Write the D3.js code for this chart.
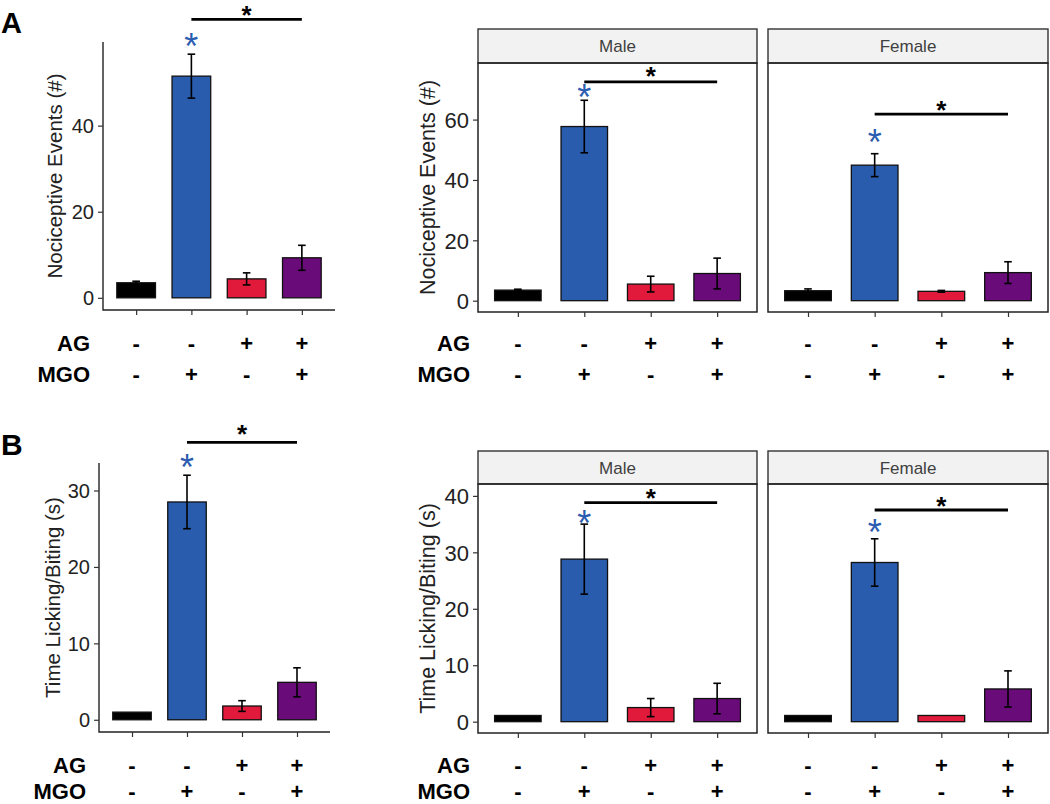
<!DOCTYPE html>
<html><head><meta charset="utf-8">
<script src="https://cdn.jsdelivr.net/npm/d3@7"></script>
<style>
body{margin:0;background:#fff}
svg{display:block}
text{font-family:"Liberation Sans",Arial,Helvetica,sans-serif}
</style>
</head><body>
<svg id="chart" width="1050" height="804"></svg>
<script>
// ---------- data ----------
const groups   = ["Control", "MGO", "AG", "AG+MGO"];
const agSigns  = ["-", "-", "+", "+"];
const mgoSigns = ["-", "+", "-", "+"];
const barColors = ["#000000", "#2A5CAD", "#E1193A", "#6A0B7A"];

// A: nociceptive events (#)
const eventsAll      = [3.5, 51.5, 4.4, 9.3];
const eventsAllSE    = [0.35, 5.1, 1.4, 2.9];
const eventsMale     = [3.5, 57.7, 5.5, 9.0];
const eventsMaleSE   = [0.3, 8.7, 2.6, 5.1];
const eventsFemale   = [3.3, 44.9, 3.1, 9.3];
const eventsFemaleSE = [0.6, 3.8, 0.3, 3.6];
// B: time licking/biting (s)
const lickAll      = [1.0, 28.5, 1.8, 4.9];
const lickAllSE    = [0, 3.5, 0.7, 1.9];
const lickMale     = [1.1, 28.8, 2.5, 4.1];
const lickMaleSE   = [0, 6.2, 1.6, 2.7];
const lickFemale   = [1.1, 28.2, 1.1, 5.8];
const lickFemaleSE = [0, 4.2, 0, 3.2];

// significance annotations [all, male, female]
const blueStarEvents  = [59.4, 68.7, 53.7];
const sigBarEvents    = [64.7, 72.5, 61.8];
const blackStarEvents = [66.5, 75.3, 64.0];
const blueStarLick    = [33.6, 35.8, 34.2];
const sigBarLick      = [36.3, 38.8, 37.5];
const blackStarLick   = [37.8, 40.1, 38.7];

const ticksEventsAll = [0, 20, 40];
const ticksEventsSex = [0, 20, 40, 60];
const ticksLickAll   = [0, 10, 20, 30];
const ticksLickSex   = [0, 10, 20, 30, 40];
const sexLabels = ["Male", "Female"];

// ---------- layout ----------
const svg = d3.select("#chart");
const blue = "#2A5CB0";
const rowsA = [351, 382], rowsB = [773, 799];

const panels = [
  {x0:103, x1:335, yTop:42, yBot:310, vals:eventsAll, se:eventsAllSE, max:56.6, ticks:ticksEventsAll,
   ylab:"Nociceptive Events (#)", strip:null, showY:true, fs:20, yTitleX:55, rows:rowsA,
   ann:[blueStarEvents[0], sigBarEvents[0], blackStarEvents[0]]},
  {x0:478, x1:757, yTop:63, yBot:312, vals:eventsMale, se:eventsMaleSE, max:75, ticks:ticksEventsSex,
   ylab:"Nociceptive Events (#)", strip:sexLabels[0], stripTop:29, showY:true, fs:22, yTitleX:427, rows:rowsA,
   ann:[blueStarEvents[1], sigBarEvents[1], blackStarEvents[1]]},
  {x0:768, x1:1048, yTop:63, yBot:312, vals:eventsFemale, se:eventsFemaleSE, max:75, ticks:ticksEventsSex,
   ylab:null, strip:sexLabels[1], stripTop:29, showY:false, fs:22, rows:rowsA,
   ann:[blueStarEvents[2], sigBarEvents[2], blackStarEvents[2]]},
  {x0:99, x1:330, yTop:463, yBot:732, vals:lickAll, se:lickAllSE, max:32, ticks:ticksLickAll,
   ylab:"Time Licking/Biting (s)", strip:null, showY:true, fs:20, yTitleX:53, rows:rowsB,
   ann:[blueStarLick[0], sigBarLick[0], blackStarLick[0]]},
  {x0:478, x1:757, yTop:484, yBot:733, vals:lickMale, se:lickMaleSE, max:40.1, ticks:ticksLickSex,
   ylab:"Time Licking/Biting (s)", strip:sexLabels[0], stripTop:451, showY:true, fs:22, yTitleX:427, rows:rowsB,
   ann:[blueStarLick[1], sigBarLick[1], blackStarLick[1]]},
  {x0:768, x1:1048, yTop:484, yBot:733, vals:lickFemale, se:lickFemaleSE, max:40.1, ticks:ticksLickSex,
   ylab:null, strip:sexLabels[1], stripTop:451, showY:false, fs:22, rows:rowsB,
   ann:[blueStarLick[2], sigBarLick[2], blackStarLick[2]]}
];

panels.forEach(p => {
  const g = svg.append("g");
  const x = d3.scalePoint().domain(groups).range([p.x0, p.x1]).padding(0.6);
  const y = d3.scaleLinear().domain([-0.05 * p.max, 1.05 * p.max]).range([p.yBot, p.yTop]);
  const bw = x.step() * 0.7;
  const data = groups.map((k, i) => ({k, v:p.vals[i], se:p.se[i], c:barColors[i]}));

  // strip
  if (p.strip) {
    g.append("rect").attr("x", p.x0).attr("y", p.stripTop).attr("width", p.x1 - p.x0)
      .attr("height", p.yTop - p.stripTop).attr("fill", "#F2F2F2").attr("stroke", "#333").attr("stroke-width", 1.4);
    g.append("text").attr("x", (p.x0 + p.x1) / 2).attr("y", (p.stripTop + p.yTop) / 2 + 6)
      .attr("text-anchor", "middle").attr("font-size", 17).attr("fill", "#404040").text(p.strip);
  }

  // bars
  g.selectAll("rect.bar").data(data).join("rect").attr("class", "bar")
    .attr("x", d => x(d.k) - bw / 2).attr("width", bw)
    .attr("y", d => y(d.v)).attr("height", d => y(0) - y(d.v))
    .attr("fill", d => d.c).attr("stroke", "#111").attr("stroke-width", 1.3);

  // error bars
  const eb = g.selectAll("g.eb").data(data.filter(d => d.se > 0)).join("g").attr("class", "eb")
    .attr("stroke", "#000").attr("stroke-width", 1.6);
  eb.append("line").attr("x1", d => x(d.k)).attr("x2", d => x(d.k))
    .attr("y1", d => y(d.v - d.se)).attr("y2", d => y(d.v + d.se));
  eb.append("line").attr("x1", d => x(d.k) - 3.8).attr("x2", d => x(d.k) + 3.8)
    .attr("y1", d => y(d.v + d.se)).attr("y2", d => y(d.v + d.se));
  eb.append("line").attr("x1", d => x(d.k) - 3.8).attr("x2", d => x(d.k) + 3.8)
    .attr("y1", d => y(d.v - d.se)).attr("y2", d => y(d.v - d.se));

  // frame / axis lines
  if (p.strip) {
    g.append("rect").attr("x", p.x0).attr("y", p.yTop).attr("width", p.x1 - p.x0)
      .attr("height", p.yBot - p.yTop).attr("fill", "none").attr("stroke", "#222").attr("stroke-width", 1.5);
  } else {
    g.append("path").attr("d", `M${p.x0},${p.yTop}V${p.yBot}H${p.x1}`)
      .attr("fill", "none").attr("stroke", "#222").attr("stroke-width", 1.4);
  }

  // y axis
  if (p.showY) {
    const ay = g.append("g").attr("transform", `translate(${p.x0},0)`)
      .call(d3.axisLeft(y).tickValues(p.ticks).tickSize(5).tickPadding(4).tickFormat(d3.format("d")));
    ay.select(".domain").remove();
    ay.selectAll("line").attr("stroke", "#333").attr("stroke-width", 1.2);
    ay.selectAll("text").attr("font-size", p.fs).attr("fill", "#222")
      .attr("font-family", '"Liberation Sans",Arial,sans-serif').attr("dy", "0.35em");
    g.append("text").attr("transform", `translate(${p.yTitleX},${(p.yTop + p.yBot) / 2}) rotate(-90)`)
      .attr("text-anchor", "middle").attr("dy", "0.35em").attr("font-size", p.fs === 20 ? 20.5 : 21.5)
      .attr("fill", "#222").text(p.ylab);
  }

  // x axis ticks
  const ax = g.append("g").attr("transform", `translate(0,${p.yBot})`)
    .call(d3.axisBottom(x).tickSize(5).tickFormat(""));
  ax.select(".domain").remove();
  ax.selectAll("line").attr("stroke", "#333").attr("stroke-width", 1.2);

  // significance annotations
  const [bs, sb, ks] = p.ann;
  g.append("text").attr("x", x(groups[1])).attr("y", y(bs) + 0.46 * 36).attr("text-anchor", "middle")
    .attr("font-size", 36).attr("fill", blue).text("*");
  g.append("line").attr("x1", x(groups[1])).attr("x2", x(groups[3])).attr("y1", y(sb)).attr("y2", y(sb))
    .attr("stroke", "#000").attr("stroke-width", 2.8);
  g.append("text").attr("x", (x(groups[1]) + x(groups[3])) / 2).attr("y", y(ks) + 0.46 * 26)
    .attr("text-anchor", "middle").attr("font-size", 26).attr("font-weight", "bold").attr("fill", "#000").text("*");

  // AG / MGO sign rows
  [[agSigns, p.rows[0]], [mgoSigns, p.rows[1]]].forEach(([signs, yy]) => {
    g.selectAll(null).data(groups).join("text")
      .attr("x", d => x(d)).attr("y", yy).attr("text-anchor", "middle")
      .attr("font-size", 22).attr("font-weight", "bold").attr("fill", "#000")
      .text((d, i) => signs[i]);
  });
  if (p.showY) {
    const lx = p.strip ? 470 : (p.x0 - 13);
    g.append("text").attr("x", lx).attr("y", p.rows[0]).attr("text-anchor", "end")
      .attr("font-size", 22).attr("font-weight", "bold").text("AG");
    g.append("text").attr("x", lx).attr("y", p.rows[1]).attr("text-anchor", "end")
      .attr("font-size", 22).attr("font-weight", "bold").text("MGO");
  }
});

// panel letters
svg.append("text").attr("x", 1).attr("y", 33).attr("font-size", 29).attr("font-weight", "bold").text("A");
svg.append("text").attr("x", 1).attr("y", 455).attr("font-size", 30).attr("font-weight", "bold").text("B");
</script>
</body></html>
